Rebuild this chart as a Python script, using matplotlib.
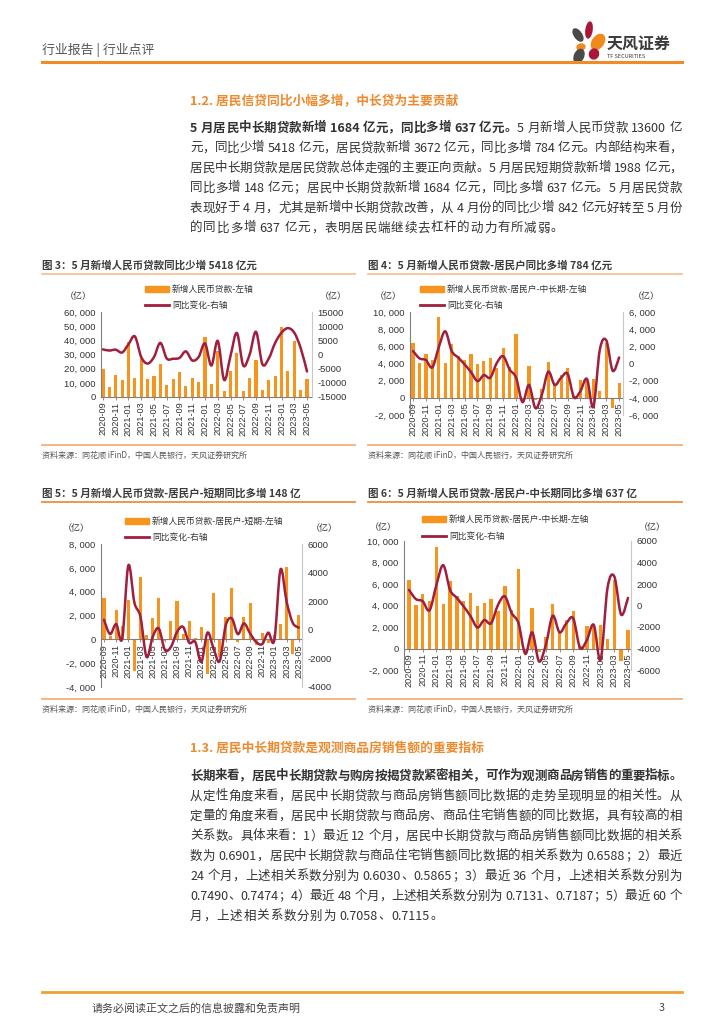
import re
import numpy as np
import matplotlib
import matplotlib.pyplot as plt
from matplotlib.path import Path
from matplotlib.patches import PathPatch, Rectangle, Ellipse

matplotlib.use("agg")

plt.rcParams["font.family"] = ["Noto Sans CJK SC", "DejaVu Sans"]
plt.rcParams["axes.unicode_minus"] = False

# tick labels (every second month, 2020-09 .. 2023-05)
month_labels = ["2020-09", "2020-11", "2021-01", "2021-03", "2021-05", "2021-07",
                "2021-09", "2021-11", "2022-01", "2022-03", "2022-05", "2022-07",
                "2022-09", "2022-11", "2023-01", "2023-03", "2023-05"]

# fig 3: total new RMB loans and yoy change (亿)
total_new = [19500, 6900, 15600, 11800, 38500, 13600, 27600, 12900, 14500, 23500, 8500,
             12900, 18000, 8000, 13300, 10500, 42400, 9300, 32500, 4000, 18500, 30900,
             4400, 13600, 26000, 4700, 11800, 14500, 49600, 18400, 39800, 4700, 12400]
total_yoy = [1800, 1400, 1700, 700, 3600, 6400, -900, -3200, -900, 4100, -1400, -1500,
             -1200, 1100, -2100, -900, 3900, -3900, 4800, -9000, -500, 7600, -3900, 0,
             8000, -3400, -1400, 4100, 7700, 9300, 7700, 2300, -6000]

# fig 4 / fig 6: household mid/long-term loans and yoy change
mlt_new = [6350, 4050, 5050, 4400, 9450, 4100, 6250, 4900, 4400, 5150, 3950, 4250, 4650,
           3500, 5800, 3550, 7420, -460, 3750, -300, 1050, 4150, 1550, 2650, 3450, 250,
           2100, 2000, 2200, 850, 6350, -1150, 1700]
mlt_yoy = [1450, 600, 400, -450, 1900, 3750, 1450, 700, -100, -1000, -2050, -1350, -1650,
           50, 850, -700, -1650, -4500, -2500, -5200, -3650, -950, -2500, -1650, -1200,
           -3950, -3200, -1800, -5050, 1600, 2700, -850, 700]

# fig 5: household short-term loans and yoy change
st_new = [3450, 250, 2500, 1150, 3300, -2650, 5250, 350, 1800, 3500, -100, 1500, 3200,
          450, 1500, 150, 1000, -2900, 3850, -1500, 1850, 4300, -250, 1900, 3050, -450,
          550, -300, 340, 1250, 6100, -1200, 2000]
st_yoy = [700, -300, 400, -600, 4500, 1900, 900, -1900, -500, 100, -1400, -1200, -150,
          200, -900, -850, -2250, -200, -1300, -2200, 300, 800, -300, 450, -250, -850,
          -1000, -200, -700, 4200, 2000, 500, 150]

BAR = "#F7941E"
LINE = "#A01E3E"
ORANGE = "#EE8A2E"
TXT = "#333333"
W, H = 724, 1024
PX = 100 / 72

fig = plt.figure(figsize=(7.24, 10.24), dpi=100)
bg = fig.add_axes([0, 0, 1, 1])
bg.set_xlim(0, W)
bg.set_ylim(H, 0)
bg.axis("off")
renderer = fig.canvas.get_renderer()


def rect(x0, y0, x1, y1):
    return [x0 / W, 1 - y1 / H, (x1 - x0) / W, (y1 - y0) / H]


def para_line(y, runs, justify=True, x0=190, x1=682, size=9):
    items = []
    for txt, bold in runs:
        for tok in re.findall(r"[A-Za-z0-9.]+| |.", txt):
            if tok == " ":
                items.append((None, size * PX * 0.25))
                continue
            t = bg.text(0, y, tok, fontsize=size, fontweight="bold" if bold else "normal",
                        color=TXT, va="center", ha="left")
            items.append((t, t.get_window_extent(renderer).width))
    total = sum(w for _, w in items)
    n = sum(1 for t, _ in items if t is not None)
    gap = (x1 - x0 - total) / (n - 1) if justify else 0.8
    x = x0
    for t, w in items:
        if t is not None:
            t.set_x(x)
            x += w + gap
        else:
            x += w


def smooth_path(xs, ys):
    pts = np.column_stack([xs, ys]).astype(float)
    verts = [pts[0]]
    codes = [Path.MOVETO]
    n = len(pts)
    for i in range(n - 1):
        p0 = pts[i - 1] if i > 0 else pts[i]
        p1, p2 = pts[i], pts[i + 1]
        p3 = pts[i + 2] if i + 2 < n else pts[i + 1]
        verts += [p1 + (p2 - p0) / 6, p2 - (p3 - p1) / 6, p2]
        codes += [Path.CURVE4] * 3
    return Path(verts, codes)


def fmt_comma(v):
    return "{:,.0f}".format(v).replace(",", ", ")


def fmt_plain(v):
    return "{:.0f}".format(v)


def draw_chart(box, xlim, bars, yoy, ylim, yticks, fl, ylim2, yticks2, fr, zero_axis):
    ax = fig.add_axes(rect(*box))
    ax.patch.set_alpha(0)
    for s in ["top", "right"]:
        ax.spines[s].set_visible(False)
    ax.spines["left"].set_color("#7f7f7f")
    ax.spines["bottom"].set_color("#7f7f7f")
    if zero_axis:
        ax.spines["bottom"].set_position(("data", 0))
    x = np.arange(len(bars))
    ax.bar(x, bars, width=0.5, color=BAR, zorder=2)
    ax.set_xlim(*xlim)
    ax.set_ylim(*ylim)
    ax.set_yticks(yticks, [fl(v) for v in yticks], fontsize=6.8,
                  fontfamily="Liberation Sans", color=TXT)
    ax.set_xticks(x[::2], month_labels, rotation=90, fontsize=6.6,
                  fontfamily="Liberation Sans", color=TXT)
    ax.tick_params(axis="y", length=0, pad=4)
    ax.tick_params(axis="x", length=2.5, width=0.6, color="#808080", pad=1)
    ax2 = ax.twinx()
    for s in ["top", "left", "bottom"]:
        ax2.spines[s].set_visible(False)
    ax2.spines["right"].set_color("#c8c8c8")
    ax2.set_ylim(*ylim2)
    ax2.set_yticks(yticks2, [fr(v) for v in yticks2], fontsize=6.8,
                   fontfamily="Liberation Sans", color=TXT)
    ax2.tick_params(axis="y", length=0, pad=4)
    ax2.add_patch(PathPatch(smooth_path(x, yoy), fill=False, edgecolor=LINE, lw=1.8,
                            capstyle="round", joinstyle="round", zorder=3))
    return ax, ax2


def legend(x, y1, y2, label1, label2, unit_l, unit_r):
    bg.add_patch(Rectangle((x, y1 - 3), 24, 6, color=BAR))
    bg.plot([x, x + 24], [y2, y2], color=LINE, lw=2)
    bg.text(x + 27, y1, label1, fontsize=6.3, color=TXT, va="center")
    bg.text(x + 27, y2, label2, fontsize=6.3, color=TXT, va="center")
    bg.text(unit_l, (y1 + y2) / 2, "（亿）", fontsize=6.5, color=TXT, va="center", ha="center")
    bg.text(unit_r, (y1 + y2) / 2, "（亿）", fontsize=6.5, color=TXT, va="center", ha="center")


def fig_title(x0, x1, y, text, line_color):
    bg.text(x0, y, text, fontsize=7.6, fontweight="bold", color="#3c3c3c", va="center")
    bg.plot([x0, x1], [y + 9, y + 9], color=line_color, lw=1.3)


def source(x0, x1, y):
    bg.plot([x0, x1], [y - 10, y - 10], color="#F4B07C", lw=1.3)
    bg.text(x0, y, "资料来源：同花顺 iFinD，中国人民银行，天风证券研究所", fontsize=5.8,
            color="#555555", va="center")


# header
bg.text(42, 50, "行业报告 | 行业点评", fontsize=9.3, color="#555555", va="center")
bg.plot([42, 682], [62, 62], color="#F08C28", lw=2.2)
bg.add_patch(Ellipse((578, 35), 7, 14, angle=-35, color="#4a4a4a"))
bg.add_patch(Ellipse((589, 30), 6, 16, angle=8, color="#A8173A"))
bg.add_patch(Ellipse((598, 42), 11, 17, angle=35, color="#F08A1C"))
bg.add_patch(Ellipse((581, 47), 8, 6, angle=-10, color="#F08A1C"))
bg.add_patch(Ellipse((594, 54), 9, 10, angle=20, color="#A8173A"))
bg.add_patch(Ellipse((579, 56), 9, 14, angle=25, color="#4a4a4a"))
bg.text(607, 44, "天风证券", fontsize=11.5, fontweight="bold", color="#3a3a3a", va="center")
bg.text(607, 57, "TF SECURITIES", fontsize=4, color="#3a3a3a", va="center")

# section 1.2
bg.text(190, 101, "1.2. 居民信贷同比小幅多增，中长贷为主要贡献", fontsize=9.2,
        fontweight="bold", color=ORANGE, va="center")
para1 = [
    [("5 月居民中长期贷款新增 1684 亿元，同比多增 637 亿元。", True), ("5 月新增人民币贷款 13600 亿", False)],
    [("元，同比少增 5418 亿元，居民贷款新增 3672 亿元，同比多增 784 亿元。内部结构来看，", False)],
    [("居民中长期贷款是居民贷款总体走强的主要正向贡献。5 月居民短期贷款新增 1988 亿元，", False)],
    [("同比多增 148 亿元；居民中长期贷款新增 1684 亿元，同比多增 637 亿元。5 月居民贷款", False)],
    [("表现好于 4 月，尤其是新增中长期贷款改善，从 4 月份的同比少增 842 亿元好转至 5 月份", False)],
    [("的同比多增 637 亿元，表明居民端继续去杠杆的动力有所减弱。", False)],
]
for i, runs in enumerate(para1):
    para_line(128 + 20 * i, runs, justify=i < len(para1) - 1)

# figure 3 / 4
fig_title(42, 355, 265, "图 3：5 月新增人民币贷款同比少增 5418 亿元", "#F6C196")
fig_title(368, 682, 265, "图 4：5 月新增人民币贷款-居民户同比多增 784 亿元", "#F6C196")
legend(145, 289, 305, "新增人民币贷款-左轴", "同比变化-右轴", 78, 333)
legend(420, 289, 305, "新增人民币贷款-居民户-中长期-左轴", "同比变化-右轴", 388, 646)

draw_chart((101, 312, 312, 397), (-0.31, 32.78), total_new, total_yoy,
           (0, 60000), np.arange(0, 60001, 10000), fmt_comma,
           (-15000, 15000), np.arange(-15000, 15001, 5000), fmt_plain, False)
draw_chart((410, 312, 623, 415), (-0.47, 32.6), mlt_new, mlt_yoy,
           (-2000, 10000), np.arange(-2000, 10001, 2000), fmt_comma,
           (-6000, 6000), np.arange(-6000, 6001, 2000), fmt_comma, True)
source(42, 355, 455)
source(368, 682, 455)

# figure 5 / 6
fig_title(42, 355, 493, "图 5：5 月新增人民币贷款-居民户-短期同比多增 148 亿", "#F08C3C")
fig_title(368, 682, 493, "图 6：5 月新增人民币贷款-居民户-中长期同比多增 637 亿", "#F08C3C")
legend(125, 521, 537, "新增人民币贷款-居民户-短期-左轴", "同比变化-右轴", 76, 324)
legend(422, 519, 536, "新增人民币贷款-居民户-中长期-左轴", "同比变化-右轴", 383, 652)

draw_chart((101, 544, 302, 687), (-0.49, 32.54), st_new, st_yoy,
           (-4000, 8000), np.arange(-4000, 8001, 2000), fmt_comma,
           (-4000, 6000), np.arange(-4000, 6001, 2000), fmt_plain, True)
draw_chart((404, 541, 631, 670), (-0.73, 32.44), mlt_new, mlt_yoy,
           (-2000, 10000), np.arange(-2000, 10001, 2000), fmt_comma,
           (-6000, 6000), np.arange(-6000, 6001, 2000), fmt_plain, True)
source(42, 355, 709)
source(368, 682, 709)

# section 1.3
bg.text(190, 748, "1.3. 居民中长期贷款是观测商品房销售额的重要指标", fontsize=9.2,
        fontweight="bold", color=ORANGE, va="center")
para2 = [
    [("长期来看，居民中长期贷款与购房按揭贷款紧密相关，可作为观测商品房销售的重要指标。", True)],
    [("从定性角度来看，居民中长期贷款与商品房销售额同比数据的走势呈现明显的相关性。从", False)],
    [("定量的角度来看，居民中长期贷款与商品房、商品住宅销售额的同比数据，具有较高的相", False)],
    [("关系数。具体来看：1）最近 12 个月，居民中长期贷款与商品房销售额同比数据的相关系", False)],
    [("数为 0.6901，居民中长期贷款与商品住宅销售额同比数据的相关系数为 0.6588；2）最近", False)],
    [("24 个月，上述相关系数分别为 0.6030、0.5865；3）最近 36 个月，上述相关系数分别为", False)],
    [("0.7490、0.7474；4）最近 48 个月，上述相关系数分别为 0.7131、0.7187；5）最近 60 个", False)],
    [("月，上述相关系数分别为 0.7058、0.7115。", False)],
]
for i, runs in enumerate(para2):
    para_line(776 + 20 * i, runs, justify=i < len(para2) - 1)

# footer
bg.plot([42, 682], [992, 992], color="#F0A030", lw=2)
bg.text(92, 1008, "请务必阅读正文之后的信息披露和免责声明", fontsize=7.9, color="#444444", va="center")
bg.text(665, 1008, "3", fontsize=7.9, color="#444444", va="center", ha="right")

fig.savefig("out.png", dpi=100)
